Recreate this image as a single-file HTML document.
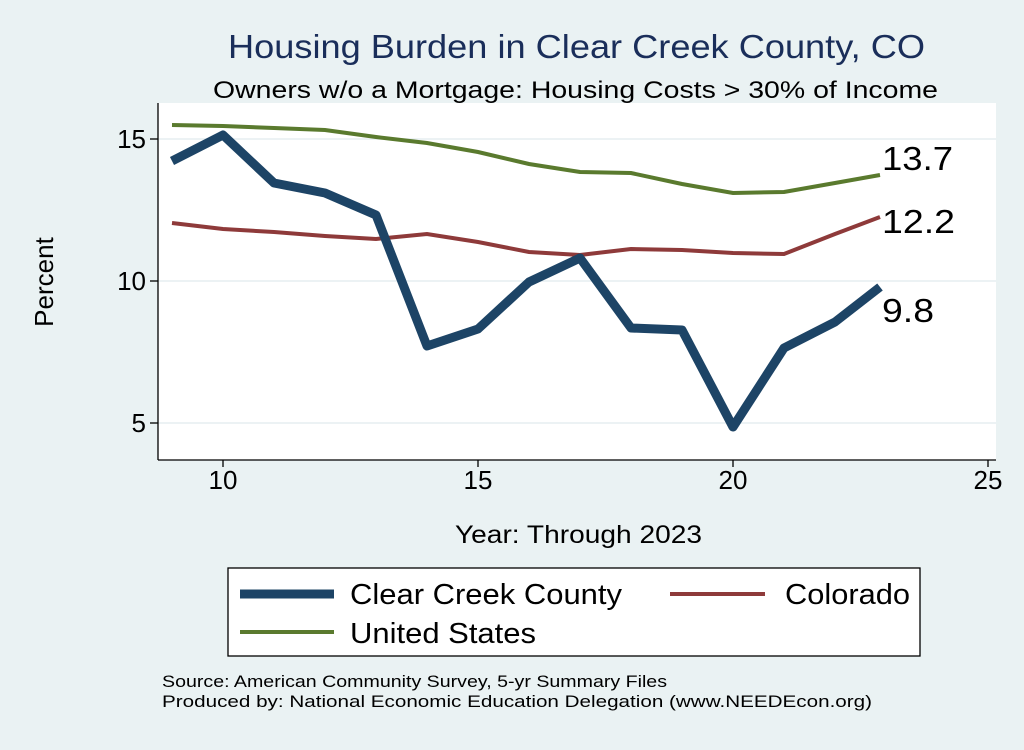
<!DOCTYPE html>
<html><head><style>body{margin:0;background:#eaf2f3}</style></head><body>
<svg width="1024" height="745" xmlns="http://www.w3.org/2000/svg" font-family="Liberation Sans, Arial, sans-serif">
<rect width="1024" height="745" fill="#eaf2f3"/>
<text x="228" y="58" font-size="33" fill="#1a2e5a" textLength="697" lengthAdjust="spacingAndGlyphs">Housing Burden in Clear Creek County, CO</text>
<text x="213" y="98" font-size="24" fill="#000" textLength="725" lengthAdjust="spacingAndGlyphs">Owners w/o a Mortgage: Housing Costs &gt; 30% of Income</text>
<rect x="158" y="103" width="838" height="357" fill="#fff"/>
<g stroke="#e6eef0" stroke-width="1.5">
<line x1="158" y1="139" x2="996" y2="139"/><line x1="158" y1="281" x2="996" y2="281"/><line x1="158" y1="423" x2="996" y2="423"/>
</g>
<g stroke="#000" stroke-width="1.3">
<line x1="158" y1="103" x2="158" y2="460"/><line x1="158" y1="460" x2="996" y2="460"/>
<line x1="150" y1="139" x2="158" y2="139"/><line x1="150" y1="281" x2="158" y2="281"/><line x1="150" y1="423" x2="158" y2="423"/>
<line x1="223" y1="460" x2="223" y2="467"/><line x1="478" y1="460" x2="478" y2="467"/><line x1="733" y1="460" x2="733" y2="467"/><line x1="988" y1="460" x2="988" y2="467"/>
</g>
<g font-size="26" text-anchor="end"><text x="146" y="148">15</text><text x="146" y="290">10</text><text x="146" y="432">5</text></g>
<g font-size="26" text-anchor="middle"><text x="223" y="489">10</text><text x="478" y="489">15</text><text x="733" y="489">20</text><text x="988" y="489">25</text></g>
<text x="53" y="282" font-size="26" text-anchor="middle" transform="rotate(-90 53 282)">Percent</text>
<text x="455" y="543" font-size="25" textLength="247" lengthAdjust="spacingAndGlyphs">Year: Through 2023</text>
<polyline fill="none" stroke="#5a7a2e" stroke-width="4" points="172,125 223,126 274,128 325,130 376,137 427,143 478,152 529,164 580,172 631,173 682,184 733,193 784,192 835,183 880,175"/>
<polyline fill="none" stroke="#8e3a3a" stroke-width="4" points="172,223 223,229 274,232 325,236 376,239 427,234 478,242 529,252 580,255 631,249 682,250 733,253 784,254 835,234 880,217"/>
<polyline fill="none" stroke="#1d4466" stroke-width="9" stroke-linejoin="round" points="172,161 223,135 274,183 325,193 376,215 427,346 478,329 529,282 580,258 631,328 682,330 733,427 784,348 835,322 880,287"/>
<g font-size="33"><text x="882" y="170" textLength="71" lengthAdjust="spacingAndGlyphs">13.7</text><text x="882" y="233" textLength="73" lengthAdjust="spacingAndGlyphs">12.2</text><text x="882" y="322" textLength="52" lengthAdjust="spacingAndGlyphs">9.8</text></g>
<rect x="228" y="568" width="692" height="88" fill="#fff" stroke="#000" stroke-width="1.3"/>
<line x1="240" y1="594" x2="334" y2="594" stroke="#1d4466" stroke-width="9"/>
<text x="350" y="604" font-size="29" textLength="272" lengthAdjust="spacingAndGlyphs">Clear Creek County</text>
<line x1="670" y1="594" x2="765" y2="594" stroke="#8e3a3a" stroke-width="4"/>
<text x="785" y="604" font-size="29" textLength="125" lengthAdjust="spacingAndGlyphs">Colorado</text>
<line x1="240" y1="632" x2="334" y2="632" stroke="#5a7a2e" stroke-width="4"/>
<text x="350" y="643" font-size="29" textLength="186" lengthAdjust="spacingAndGlyphs">United States</text>
<text x="162" y="687" font-size="17" textLength="505" lengthAdjust="spacingAndGlyphs">Source: American Community Survey, 5-yr Summary Files</text>
<text x="162" y="707" font-size="17" textLength="710" lengthAdjust="spacingAndGlyphs">Produced by: National Economic Education Delegation (www.NEEDEcon.org)</text>
</svg>
</body></html>
